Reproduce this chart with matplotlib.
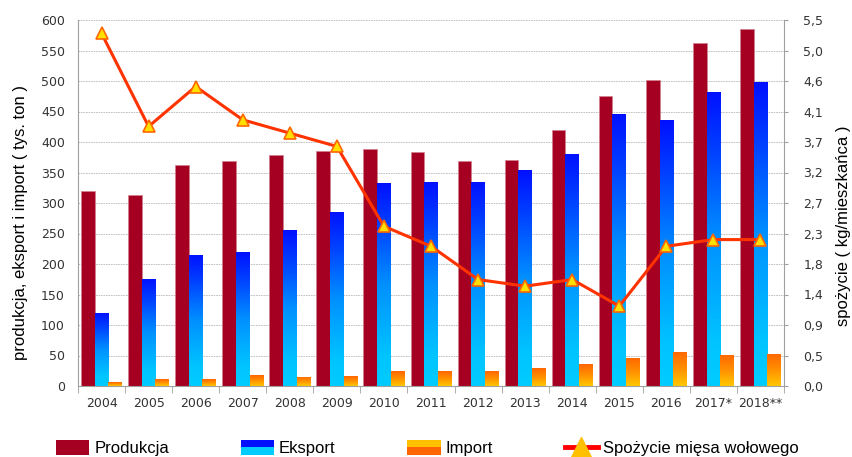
import matplotlib
matplotlib.use('Agg')
import matplotlib.pyplot as plt
import numpy as np
from matplotlib.colors import LinearSegmentedColormap
from matplotlib.legend_handler import HandlerBase
from matplotlib.patches import Rectangle, Patch
from matplotlib.lines import Line2D

years = ['2004', '2005', '2006', '2007', '2008', '2009', '2010', '2011',
         '2012', '2013', '2014', '2015', '2016', '2017*', '2018**']
produkcja = [320, 313, 362, 369, 378, 386, 389, 383, 369, 371, 420, 476, 501, 562, 586]
eksport = [120, 176, 215, 219, 255, 286, 332, 334, 335, 354, 381, 446, 436, 482, 498]
imp = [6, 11, 11, 18, 15, 16, 24, 24, 24, 29, 36, 46, 56, 51, 53]
spozycie = [5.3, 3.9, 4.5, 4.0, 3.8, 3.6, 2.4, 2.1, 1.6, 1.5, 1.6, 1.2, 2.1, 2.2, 2.2]
right_ticks = ['0,0', '0,5', '0,9', '1,4', '1,8', '2,3', '2,7', '3,2', '3,7', '4,1', '4,6', '5,0', '5,5']

label_font = ['Liberation Sans', 'DejaVu Sans']
tick_col = '#333333'
grey = '#A0A0A0'

fig = plt.figure(figsize=(8.52, 4.57), dpi=100)
ax = fig.add_axes([78/852, 1 - 386/457, 706/852, 366/457])
x = np.arange(len(years))
w = 0.29

ax.set_axisbelow(True)
b_prod = ax.bar(x - w, produkcja, w, color='#A50021', edgecolor='#D08090', linewidth=0.5, zorder=2)
b_eks = ax.bar(x, eksport, w, color='none', edgecolor='none', zorder=2)
b_imp = ax.bar(x + w, imp, w, color='none', edgecolor='none', zorder=2)

# gradient fill clipped to each bar
cm_eks = LinearSegmentedColormap.from_list(
    'eks', [(0, '#00CCFF'), (0.15, '#00C4FF'), (0.5, '#0090FF'), (0.8, '#0040FF'), (1, '#0010FF')])
cm_imp = LinearSegmentedColormap.from_list('imp', ['#FFC800', '#FF9000', '#FF6600'])
grad = np.linspace(0, 1, 256).reshape(-1, 1)
for bars, cm in ((b_eks, cm_eks), (b_imp, cm_imp)):
    for r in bars:
        x0, y0 = r.get_x(), r.get_y()
        im = ax.imshow(grad, cmap=cm, origin='lower', aspect='auto',
                       extent=(x0, x0 + r.get_width(), y0, y0 + r.get_height()), zorder=2)
        im.set_clip_path(r)

ax.set_xlim(-0.5, len(years) - 0.5)
ax.set_ylim(0, 600)
ax.set_yticks(np.arange(0, 601, 50))
ax.yaxis.grid(True, linestyle=(0, (2, 1)), color='#B8B8B8', linewidth=0.6)
ax.set_xticks(x)
ax.set_xticklabels(years)
ax.set_xticks(np.arange(-0.5, len(years), 1), minor=True)
ax.tick_params(axis='x', which='major', length=0, pad=8, labelsize=9, labelcolor=tick_col)
ax.tick_params(axis='x', which='minor', length=5, color=grey, direction='out')
ax.tick_params(axis='y', length=0, pad=9.5, labelsize=9, labelcolor=tick_col)
for s in ('top', 'right'):
    ax.spines[s].set_visible(False)
for s in ('left', 'bottom'):
    ax.spines[s].set_color(grey)

ax2 = ax.twinx()
ax2.plot(x, spozycie, color='#FF3300', linewidth=2.2, marker='^', markersize=8.5,
         markerfacecolor='#FFE000', markeredgecolor='#FF6600', markeredgewidth=1.2, zorder=5)
ax2.set_ylim(0, 5.5)
ax2.set_yticks(np.linspace(0, 5.5, 13))
ax2.set_yticklabels(right_ticks)
ax2.tick_params(axis='y', length=3, color=grey, pad=11, labelsize=9, labelcolor=tick_col)
for s in ('top', 'left', 'bottom'):
    ax2.spines[s].set_visible(False)
ax2.spines['right'].set_color(grey)

ax.text(-0.082, 0.448, 'produkcja, eksport i import ( tys. ton )', transform=ax.transAxes,
        rotation=90, ha='center', va='center', fontsize=12, family=label_font)
ax.text(1.0836, 0.437, 'spożycie ( kg/mieszkańca )', transform=ax.transAxes,
        rotation=90, ha='center', va='center', fontsize=12, family=label_font)


class TwoTone(HandlerBase):
    def __init__(self, top, bottom):
        super().__init__()
        self.top = top
        self.bottom = bottom

    def create_artists(self, legend, orig_handle, xdescent, ydescent, width, height, fontsize, trans):
        r1 = Rectangle((-xdescent, -ydescent + height / 2), width, height / 2,
                       facecolor=self.top, edgecolor='none', transform=trans)
        r2 = Rectangle((-xdescent, -ydescent), width, height / 2,
                       facecolor=self.bottom, edgecolor='none', transform=trans)
        return [r1, r2]


h_prod = Patch(facecolor='#A50021', edgecolor='none')
h_eks = Patch(facecolor='#0010FF')
h_imp = Patch(facecolor='#FFC000')
h_line = Line2D([], [], color='#FF0000', linewidth=3.5, marker='^', markersize=14,
                markerfacecolor='#FFC000', markeredgecolor='#FFC000')
fig.legend([h_prod, h_eks, h_imp, h_line],
           ['Produkcja', 'Eksport', 'Import', 'Spożycie mięsa wołowego'],
           handler_map={h_eks: TwoTone('#0010FF', '#00CCFF'), h_imp: TwoTone('#FFC000', '#FF6600')},
           loc='center left', bbox_to_anchor=(56/852, 1 - 448/457), ncol=4, frameon=False,
           borderpad=0, borderaxespad=0, handlelength=2.0, handleheight=1.0,
           handletextpad=0.3, columnspacing=4.3, prop={'family': label_font, 'size': 12})

fig.savefig('out.png', dpi=100)
